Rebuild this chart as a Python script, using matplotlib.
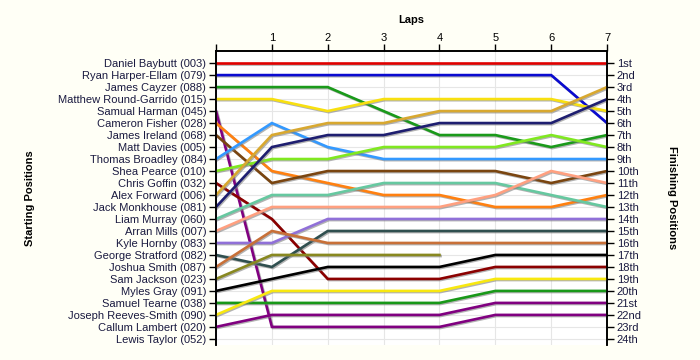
import numpy as np
import matplotlib
matplotlib.use("Agg")
import matplotlib.pyplot as plt
import matplotlib.patheffects as pe

plt.rcParams['font.family'] = ['Liberation Sans', 'DejaVu Sans']

laps = [0, 1, 2, 3, 4, 5, 6, 7]
lap_labels = ['', '1', '2', '3', '4', '5', '6', '7']

names = ['Daniel Baybutt (003)', 'Ryan Harper-Ellam (079)', 'James Cayzer (088)',
         'Matthew Round-Garrido (015)', 'Samual Harman (045)', 'Cameron Fisher (028)',
         'James Ireland (068)', 'Matt Davies (005)', 'Thomas Broadley (084)',
         'Shea Pearce (010)', 'Chris Goffin (032)', 'Alex Forward (006)',
         'Jack Monkhouse (081)', 'Liam Murray (060)', 'Arran Mills (007)',
         'Kyle Hornby (083)', 'George Stratford (082)', 'Joshua Smith (087)',
         'Sam Jackson (023)', 'Myles Gray (091)', 'Samuel Tearne (038)',
         'Joseph Reeves-Smith (090)', 'Callum Lambert (020)', 'Lewis Taylor (052)']

finish_labels = ['1st', '2nd', '3rd'] + ['%dth' % i for i in range(4, 21)] + ['21st', '22nd', '23rd', '24th']

# position of each driver after each lap (None = no line drawn / retired)
positions = [
    [1, 1, 1, 1, 1, 1, 1, 1],
    [2, 2, 2, 2, 2, 2, 2, 6],
    [3, 3, 3, 5, 7, 7, 8, 7],
    [4, 4, 5, 4, 4, 4, 4, 5],
    [5, 23, 23, 23, 23, 22, 22, 22],
    [6, 10, 11, 12, 12, 13, 13, 12],
    [7, 11, 10, 10, 10, 10, 11, 10],
    None,
    [9, 6, 8, 9, 9, 9, 9, 9],
    [10, 9, 9, 8, 8, 8, 7, 8],
    [11, 14, 19, 19, 19, 18, 18, 18],
    [12, 7, 6, 6, 5, 5, 5, 3],
    [13, 8, 7, 7, 6, 6, 6, 4],
    [14, 12, 12, 11, 11, 11, 12, 13],
    [15, 13, 13, 13, 13, 12, 10, 11],
    [16, 16, 14, 14, 14, 14, 14, 14],
    [17, 18, 15, 15, 15, 15, 15, 15],
    [18, 15, 16, 16, 16, 16, 16, 16],
    [19, 17, 17, 17, 17, None, None, None],
    [20, 19, 18, 18, 18, 17, 17, 17],
    [21, 21, 21, 21, 21, 20, 20, 20],
    [22, 20, 20, 20, 20, 19, 19, 19],
    [23, 22, 22, 22, 22, 21, 21, 21],
    None,
]

colors = ['#e00000', '#0a0ad0', '#1a9a1a', '#f8e010', '#800080', '#ff8010',
          '#7a4510', None, '#3399ff', '#80e820', '#8b0000', '#d8a830',
          '#1e1e70', '#66c8a0', '#ffa080', '#9070d8', '#2f4f4f', '#c87038',
          '#888820', '#000000', '#189818', '#f8e810', '#800080', None]

fig = plt.figure(figsize=(7, 3.6), dpi=100, facecolor='#fffff6')
ax = fig.add_axes([0.3086, 0.042, 0.5586, 0.816])
ax.set_facecolor('white')

shadow = [pe.SimpleLineShadow(offset=(0.8, -0.8), shadow_color='#808080', alpha=0.6),
          pe.Normal()]

for pos, c in zip(positions, colors):
    if pos is None:
        continue
    y = np.array([np.nan if p is None else p for p in pos], dtype=float)
    ax.plot(laps, y, color=c, lw=1.9, solid_joinstyle='miter', path_effects=shadow, zorder=3)

ax.set_xlim(0, 7)
ax.set_ylim(24.5, 0)

fs = 8
ax.xaxis.tick_top()
ax.set_xticks(laps)
ax.set_xticklabels(lap_labels, fontsize=fs)
ax.set_xlabel('Laps', fontsize=fs, fontweight='bold', labelpad=7)
ax.xaxis.set_label_position('top')

ypos = np.arange(1, 25)
ax.set_yticks(ypos)
ax.set_yticklabels(names, fontsize=fs, color='#1a1a40')

ax2 = ax.twinx()
ax2.set_ylim(24.5, 0)
ax2.set_yticks(ypos)
ax2.set_yticklabels(finish_labels, fontsize=fs, color='#1a1a40')

fig.text(30 / 700, 0.45, 'Starting Positions', fontsize=fs, fontweight='bold',
         rotation=90, ha='center', va='center')
fig.text(672 / 700, 0.45, 'Finishing Positions', fontsize=fs, fontweight='bold',
         rotation=-90, ha='center', va='center')

ax.grid(True, color='#e6e6e6', lw=0.8, zorder=0)
ax.set_axisbelow(True)

for a in (ax, ax2):
    a.spines['bottom'].set_visible(False)
    a.tick_params(axis='y', length=5, width=1, direction='out', pad=2)
    for s in ('top', 'left', 'right'):
        a.spines[s].set_linewidth(1.2)
ax.tick_params(axis='x', length=5, width=1, direction='out', pad=1)

fig.savefig('out.png', dpi=100, facecolor=fig.get_facecolor())
